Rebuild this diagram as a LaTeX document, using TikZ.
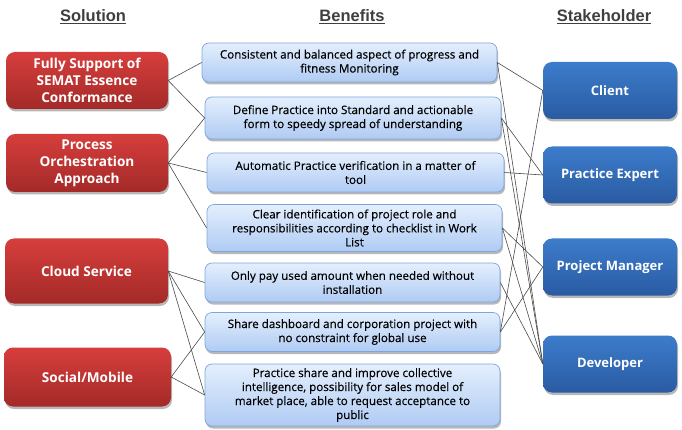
\documentclass[tikz,border=0pt]{standalone}
\usepackage{fontspec}
\setmainfont{Open Sans}
\newfontfamily\hdrfont{Liberation Sans}
\newfontfamily\medfont[FakeBold=0.35]{Open Sans}
\usetikzlibrary{shadows}
\definecolor{redtop}{HTML}{D63E3C}
\definecolor{redbot}{HTML}{A32A28}
\definecolor{ltop}{HTML}{E4EFFD}
\definecolor{lbot}{HTML}{AFCBF3}
\definecolor{lborder}{HTML}{7EA6DE}
\definecolor{btop}{HTML}{3C7CCB}
\definecolor{bbot}{HTML}{2A5BA2}
\definecolor{hdr}{HTML}{3F3F3F}
\definecolor{wire}{HTML}{4A4A4A}
\begin{document}
\begin{tikzpicture}[x=1pt,y=-1pt,
  shadowed/.style={drop shadow={shadow xshift=1pt,shadow yshift=-2.5pt,opacity=0.28,fill=black}},
  redbox/.style={shadowed,rounded corners=9pt,top color=redtop,bottom color=redbot,text=white,
    font=\bfseries\fontsize{13.6}{17}\selectfont,align=center,inner sep=2pt},
  lightbox/.style={shadowed,rounded corners=7pt,top color=ltop,bottom color=lbot,draw=lborder,line width=0.7pt,
    text=black,font=\medfont\fontsize{11.6}{14}\selectfont,align=center,inner sep=2pt},
  bluebox/.style={shadowed,rounded corners=9pt,top color=btop,bottom color=bbot,text=white,
    font=\bfseries\fontsize{13}{17}\selectfont,align=center,minimum width=134pt,minimum height=57pt,inner sep=2pt},
  header/.style={text=hdr,font=\hdrfont\bfseries\fontsize{16.5}{19}\selectfont},
  link/.style={draw=wire,line width=0.6pt}]
\useasboundingbox (0,0) rectangle (682,430);

% headers
\node[header] (h1) at (93,17) {\underline{Solution}};
\node[header] (h2) at (352,17) {\underline{Benefits}};
\node[header] (h3) at (604,17) {\underline{Stakeholder}};

% solutions
\node[redbox,minimum width=162pt,minimum height=57pt] (s1) at (87,80.5) {Fully Support of\\SEMAT Essence\\Conformance};
\node[redbox,minimum width=162pt,minimum height=58pt] (s2) at (87,163) {Process\\Orchestration\\Approach};
\node[redbox,minimum width=163pt,minimum height=65pt] (s3) at (86.5,271) {Cloud Service};
\node[redbox,minimum width=167pt,minimum height=59pt] (s4) at (87.5,377) {Social/Mobile};

% benefits
\node[lightbox,minimum width=295pt,minimum height=39pt] (b1) at (349.5,62.5) {Consistent and balanced aspect of progress and\\fitness Monitoring};
\node[lightbox,minimum width=296pt,minimum height=42pt] (b2) at (353,118) {Define Practice into Standard and actionable\\form to speedy spread of understanding};
\node[lightbox,minimum width=297pt,minimum height=39pt] (b3) at (355.5,172.5) {Automatic Practice verification in a matter of\\tool};
\node[lightbox,minimum width=295pt,minimum height=47pt] (b4) at (354.5,228) {Clear identification of project role and\\responsibilities according to checklist in Work\\List};
\node[lightbox,minimum width=295pt,minimum height=39pt] (b5) at (352.5,282.5) {Only pay used amount when needed without\\installation};
\node[lightbox,minimum width=295pt,minimum height=39pt] (b6) at (352.5,332) {Share dashboard and corporation project with\\no constraint for global use};
\node[lightbox,minimum width=295pt,minimum height=62pt] (b7) at (352.5,395) {Practice share and improve collective\\intelligence, possibility for sales model of\\market place, able to request acceptance to\\public};

% stakeholders
\node[bluebox] (c1) at (610,90.5) {Client};
\node[bluebox] (c2) at (610,175) {Practice Expert};
\node[bluebox] (c3) at (610,267) {Project Manager};
\node[bluebox] (c4) at (610,364) {Developer};

% solution -> benefit
\draw[link] (s1.east) -- (b1.west);
\draw[link] (s1.east) -- (b2.west);
\draw[link] (s2.east) -- (b2.west);
\draw[link] (s2.east) -- (b3.west);
\draw[link] (s2.east) -- (b4.west);
\draw[link] (s3.east) -- (b5.west);
\draw[link] (s3.east) -- (b6.west);
\draw[link] (s3.east) -- (b7.west);
\draw[link] (s4.east) -- (b6.west);
\draw[link] (s4.east) -- (b7.west);

% benefit -> stakeholder
\draw[link] (b1.east) -- (c1.west);
\draw[link] (b1.east) -- (c4.west);
\draw[link] (b2.east) -- (c2.west);
\draw[link] (b2.east) -- (c4.west);
\draw[link] (b3.east) -- (c2.west);
\draw[link] (b4.east) -- (c3.west);
\draw[link] (b4.east) -- (c4.west);
\draw[link] (b5.east) -- (c4.west);
\draw[link] (b6.east) -- (c1.west);
\draw[link] (b6.east) -- (c3.west);
\end{tikzpicture}
\end{document}
